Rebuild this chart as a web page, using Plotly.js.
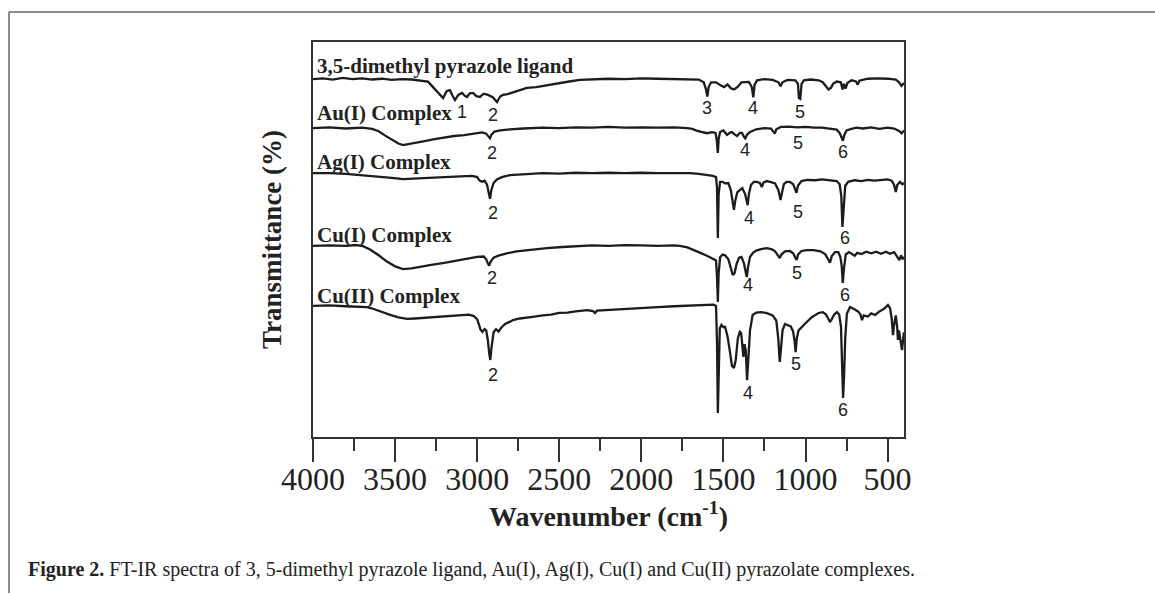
<!DOCTYPE html>
<html>
<head>
<meta charset="utf-8">
<script src="https://cdn.plot.ly/plotly-3.0.1.min.js"></script>
<style>
  html, body { margin: 0; padding: 0; background: #ffffff; }
  #chart { width: 1155px; height: 593px; }
</style>
</head>
<body>
<div id="chart"></div>
<script>
// FT-IR spectra, stacked with vertical offsets: [wavenumber (cm-1), transmittance (offset %)]
const ligand = [
  [4000,90.6],[3940,90.8],[3880,90.5],[3820,90.9],[3760,90.6],[3700,90.8],[3640,90.5],[3580,90.7],
  [3520,90.4],[3460,90.6],[3400,90.5],[3340,90.3],[3300,90.0],[3287,89.4],[3265,88.4],[3245,87.4],
  [3225,86.6],[3208,85.8],[3185,87.6],[3166,87.8],[3150,86.4],[3135,85.3],[3115,86.6],[3092,87.1],
  [3075,86.4],[3062,86.1],[3045,87.0],[3025,87.1],[3005,86.3],[2983,86.1],[2960,86.9],[2934,86.6],
  [2905,86.0],[2879,84.8],[2860,86.2],[2843,86.6],[2815,86.8],[2782,87.3],[2740,87.9],[2697,88.4],
  [2640,88.6],[2575,89.1],[2500,89.6],[2440,90.0],[2374,90.4],[2300,90.5],[2200,90.7],[2100,90.6],
  [2000,90.8],[1900,90.7],[1800,90.6],[1700,90.6],[1650,90.5],[1620,89.8],[1606,88.0],[1598,86.2],
  [1590,88.6],[1575,89.8],[1545,89.8],[1515,89.0],[1495,88.6],[1475,89.3],[1455,88.3],[1435,88.0],
  [1412,88.7],[1390,89.8],[1345,89.9],[1327,88.6],[1318,86.0],[1310,89.2],[1295,90.3],[1250,90.6],
  [1200,90.4],[1165,89.8],[1152,88.8],[1140,89.8],[1110,90.4],[1062,90.3],[1046,89.4],[1040,85.8],
  [1032,85.6],[1024,89.4],[1010,90.3],[970,90.5],[920,90.3],[895,89.8],[875,88.6],[860,88.0],
  [845,88.4],[832,89.4],[810,90.0],[785,89.8],[774,88.0],[766,89.4],[756,88.2],[745,89.6],
  [720,90.3],[692,90.0],[682,89.2],[672,90.2],[620,90.7],[560,90.8],[500,90.7],[450,90.5],
  [430,89.8],[415,88.9],[400,89.6]
];

const auComplex = [
  [4000,78.2],[3900,78.4],[3800,78.1],[3700,78.3],[3640,78.0],[3600,77.4],[3560,76.3],[3520,75.2],
  [3480,74.3],[3452,73.9],[3420,74.1],[3380,74.5],[3320,74.9],[3260,75.4],[3200,75.8],[3140,76.2],
  [3080,76.4],[3020,76.8],[2970,77.1],[2945,76.8],[2930,76.0],[2922,75.6],[2912,76.6],[2895,77.3],
  [2860,77.6],[2800,77.9],[2720,78.1],[2600,78.3],[2500,78.2],[2400,78.4],[2300,78.3],[2200,78.5],
  [2100,78.3],[2000,78.4],[1900,78.3],[1800,78.4],[1720,78.2],[1690,78.0],[1660,77.5],[1630,77.1],
  [1600,76.9],[1570,77.2],[1548,77.0],[1540,75.0],[1534,71.9],[1529,75.5],[1520,77.2],[1500,77.6],
  [1478,76.5],[1462,77.0],[1448,77.2],[1432,76.6],[1417,76.2],[1400,77.0],[1387,77.0],[1375,76.0],
  [1367,75.6],[1355,76.6],[1338,77.2],[1300,77.9],[1250,78.2],[1210,78.1],[1195,77.4],[1187,76.8],
  [1178,77.9],[1150,78.5],[1100,78.6],[1050,78.4],[1000,78.5],[950,78.3],[900,78.3],[850,78.1],
  [810,77.8],[792,77.0],[780,76.0],[772,75.0],[764,76.4],[750,77.6],[720,78.0],[690,78.3],
  [650,78.1],[600,78.4],[550,78.0],[500,78.3],[460,78.1],[430,77.5],[415,76.9],[400,77.6]
];

const agComplex = [
  [4000,66.8],[3900,66.8],[3800,66.6],[3700,66.3],[3600,66.0],[3520,65.6],[3452,65.3],[3380,65.4],
  [3300,65.6],[3200,65.8],[3100,66.0],[3030,66.1],[3000,65.8],[2985,64.9],[2970,64.6],[2955,64.9],
  [2940,63.9],[2930,61.8],[2922,60.3],[2914,62.4],[2900,64.3],[2880,65.2],[2850,65.8],[2800,66.3],
  [2700,66.6],[2600,66.8],[2500,66.7],[2400,66.9],[2300,66.8],[2200,66.9],[2100,66.8],[2000,66.9],
  [1900,66.8],[1800,66.8],[1704,66.8],[1650,66.6],[1600,66.4],[1564,66.1],[1545,65.8],[1539,63.0],
  [1534,50.4],[1529,61.5],[1520,64.6],[1505,64.6],[1490,64.2],[1470,64.3],[1455,62.5],[1444,59.0],
  [1436,57.5],[1428,59.8],[1415,62.0],[1400,62.5],[1385,63.0],[1368,61.5],[1358,59.5],[1352,58.7],
  [1345,61.5],[1332,63.8],[1315,64.6],[1296,64.6],[1278,64.3],[1266,63.3],[1256,64.4],[1235,64.8],
  [1216,64.6],[1185,64.2],[1165,62.5],[1152,60.0],[1145,61.5],[1132,64.0],[1115,64.6],[1095,64.6],
  [1075,64.0],[1062,62.5],[1055,61.8],[1046,63.6],[1025,64.8],[990,65.1],[940,65.0],[900,65.2],
  [850,65.0],[810,64.8],[792,64.0],[782,61.0],[775,53.2],[768,59.0],[758,63.6],[740,64.6],
  [700,65.0],[660,64.8],[620,65.1],[580,64.9],[540,65.1],[500,65.2],[475,64.9],[460,63.8],
  [450,62.0],[441,63.8],[425,64.6],[410,64.0],[400,64.3]
];

const cu1Complex = [
  [4000,48.4],[3900,48.5],[3800,48.4],[3740,48.6],[3695,48.3],[3650,47.4],[3600,46.0],[3550,44.4],
  [3500,43.2],[3452,42.5],[3400,42.7],[3340,43.2],[3280,43.6],[3200,44.1],[3130,44.6],[3060,45.2],
  [3000,45.6],[2960,45.7],[2945,45.0],[2935,44.0],[2927,43.4],[2918,44.4],[2900,45.4],[2870,45.9],
  [2820,46.5],[2760,47.0],[2680,47.4],[2575,47.8],[2480,48.1],[2400,48.3],[2300,48.5],[2200,48.4],
  [2100,48.6],[2000,48.5],[1900,48.4],[1800,48.5],[1765,48.4],[1720,48.0],[1680,47.2],[1640,46.6],
  [1600,45.9],[1565,45.1],[1545,44.7],[1539,40.5],[1534,34.2],[1529,41.5],[1520,45.5],[1505,46.2],
  [1490,46.0],[1470,45.0],[1455,42.8],[1443,41.0],[1432,41.5],[1420,43.8],[1405,45.4],[1390,45.6],
  [1375,44.0],[1365,41.5],[1358,40.5],[1350,43.0],[1338,45.6],[1320,46.6],[1300,47.2],[1265,47.6],
  [1235,47.8],[1205,47.5],[1185,47.0],[1168,46.0],[1157,45.3],[1147,46.2],[1125,47.0],[1095,47.1],
  [1075,46.5],[1062,45.4],[1054,44.8],[1045,46.2],[1025,47.1],[990,47.3],[950,47.3],[910,47.0],
  [880,46.3],[862,45.0],[851,44.1],[840,45.8],[820,46.8],[800,46.8],[788,45.6],[780,43.5],
  [773,39.0],[766,42.5],[755,46.2],[735,46.8],[715,46.4],[700,45.9],[685,46.6],[660,46.3],
  [630,46.9],[600,46.5],[570,46.9],[540,46.4],[510,46.9],[485,46.4],[460,46.8],[440,45.6],
  [428,44.8],[418,46.0],[408,45.0],[400,45.6]
];

const cu2Complex = [
  [4000,33.2],[3900,33.3],[3800,33.1],[3720,33.0],[3671,32.9],[3630,32.4],[3580,31.6],[3530,30.9],
  [3480,30.3],[3427,29.9],[3380,30.0],[3320,30.2],[3250,30.4],[3180,30.6],[3100,30.9],[3050,31.0],
  [3020,30.6],[3000,29.8],[2990,28.6],[2980,27.2],[2968,26.6],[2955,27.3],[2945,27.0],[2935,24.5],
  [2926,21.0],[2920,19.5],[2913,22.5],[2900,26.5],[2885,27.3],[2870,26.7],[2855,27.6],[2830,28.6],
  [2800,29.2],[2782,29.6],[2740,30.0],[2700,30.3],[2650,30.5],[2600,30.8],[2550,31.0],[2500,31.4],
  [2450,31.5],[2400,31.8],[2330,32.1],[2295,31.9],[2282,31.4],[2270,32.0],[2200,32.2],[2100,32.5],
  [2000,32.7],[1900,32.9],[1800,33.1],[1700,33.3],[1620,33.4],[1560,33.5],[1545,33.2],[1539,24.0],
  [1534,6.1],[1529,18.0],[1522,27.5],[1512,28.4],[1500,27.8],[1490,27.9],[1475,25.5],[1460,21.5],
  [1448,18.0],[1436,17.5],[1425,19.5],[1412,25.0],[1400,26.6],[1392,26.3],[1384,22.5],[1378,20.3],
  [1372,23.5],[1364,22.0],[1356,14.4],[1348,19.5],[1338,27.0],[1322,30.9],[1300,31.5],[1270,31.6],
  [1240,31.4],[1200,30.8],[1178,29.5],[1166,25.0],[1157,19.0],[1150,22.0],[1140,27.0],[1125,28.6],
  [1108,28.4],[1090,28.0],[1076,26.8],[1067,24.5],[1060,21.5],[1053,25.0],[1042,27.0],[1025,27.8],
  [1000,28.8],[960,30.4],[920,31.4],[894,31.6],[875,31.0],[862,30.0],[851,29.1],[840,29.8],
  [825,31.0],[808,31.6],[795,31.0],[784,28.0],[777,19.0],[771,9.9],[765,15.5],[758,25.0],
  [748,31.2],[729,32.9],[705,32.4],[680,31.8],[665,31.0],[656,29.6],[645,30.8],[620,30.5],
  [600,31.3],[575,30.9],[550,31.8],[520,32.5],[498,33.4],[485,32.6],[475,30.0],[467,25.8],
  [460,28.5],[450,30.8],[442,28.0],[437,24.6],[431,27.0],[424,25.0],[418,22.8],[412,22.0],
  [406,24.5],[400,26.5]
];

// Spectrum names and the level at which each name sits
const spectrumNames = ["3,5-dimethyl pyrazole ligand", "Au(I) Complex", "Ag(I) Complex", "Cu(I) Complex", "Cu(II) Complex"];
const nameLevels = [93.8, 82.0, 69.6, 51.1, 35.7];

// Band numbers: [label, wavenumber, level of the number]
const ligandBands = [["1",3092,82.3],["2",2904,81.5],["3",1600,83.3],["4",1320,83.3],["5",1034,82.3]];
const auBands     = [["2",2910,71.9],["4",1369,72.7],["5",1046,74.4],["6",772,72.2]];
const agBands     = [["2",2904,56.7],["4",1344,55.4],["5",1046,57.0],["6",760,50.4]];
const cu1Bands    = [["2",2910,40.3],["4",1350,38.5],["5",1052,41.5],["6",760,35.9]];
const cu2Bands    = [["2",2904,15.7],["4",1350,11.1],["5",1058,18.5],["6",772,6.8]];

const xTickVals = [4000, 3500, 3000, 2500, 2000, 1500, 1000, 500];
const xTickText = ["4000", "3500", "3000", "2500", "2000", "1500", "1000", "500"];

const captionBold = "Figure 2.";
const captionText = "FT-IR spectra of 3, 5-dimethyl pyrazole ligand, Au(I), Ag(I), Cu(I) and Cu(II) pyrazolate complexes.";

// ---- drawing ----
const ink = "#1c1c1c";
const spectra = [ligand, auComplex, agComplex, cu1Complex, cu2Complex];
const traces = spectra.map((s, i) => ({
  type: "scatter",
  mode: "lines",
  name: spectrumNames[i],
  x: s.map(p => p[0]),
  y: s.map(p => p[1]),
  line: { color: ink, width: 2.3 },
  hoverinfo: "skip",
  showlegend: false
}));

const annotations = [];
spectrumNames.forEach((n, i) => {
  annotations.push({
    xref: "x", yref: "y", x: 3990, y: nameLevels[i],
    xanchor: "left", yanchor: "middle", showarrow: false,
    text: "<b>" + n + "</b>",
    font: { family: "Liberation Serif, Times New Roman, serif", size: 21, color: "#222" }
  });
});
[ligandBands, auBands, agBands, cu1Bands, cu2Bands].forEach(bands => {
  bands.forEach(b => {
    annotations.push({
      xref: "x", yref: "y", x: b[1], y: b[2],
      xanchor: "center", yanchor: "middle", showarrow: false,
      text: b[0],
      font: { family: "Liberation Sans, Arial, sans-serif", size: 18, color: "#222" }
    });
  });
});
// figure caption under the plot
annotations.push({
  xref: "paper", yref: "paper", x: -0.4857, y: -0.3367,
  xanchor: "left", yanchor: "middle", showarrow: false, align: "left",
  text: "<b>" + captionBold + "</b> " + captionText,
  font: { family: "Liberation Serif, Times New Roman, serif", size: 20, color: "#222" }
});

const layout = {
  width: 1155, height: 593,
  margin: { l: 313, r: 251, t: 42, b: 156, pad: 0 },
  paper_bgcolor: "#ffffff", plot_bgcolor: "#ffffff",
  showlegend: false,
  xaxis: {
    range: [4000, 400],
    tickvals: xTickVals, ticktext: xTickText,
    ticks: "outside", ticklen: 23, tickwidth: 2, tickcolor: "#333",
    ticklabelstandoff: -10,
    minor: { dtick: 250, tick0: 0, ticks: "outside", ticklen: 12, tickwidth: 2, tickcolor: "#333", showgrid: false },
    showline: true, linecolor: "#333", linewidth: 2, mirror: true,
    showgrid: false, zeroline: false,
    tickfont: { family: "Liberation Serif, Times New Roman, serif", size: 32, color: "#222" },
    title: { text: "<b>Wavenumber (cm<sup>-1</sup>)</b>", standoff: 0,
             font: { family: "Liberation Serif, Times New Roman, serif", size: 28, color: "#222" } }
  },
  yaxis: {
    range: [0, 100],
    showticklabels: false, ticks: "",
    showline: true, linecolor: "#333", linewidth: 2, mirror: true,
    showgrid: false, zeroline: false,
    title: { text: "<b>Transmittance (%)</b>", standoff: 22,
             font: { family: "Liberation Serif, Times New Roman, serif", size: 27, color: "#222" } }
  },
  annotations: annotations,
  shapes: [
    { type: "line", xref: "paper", yref: "paper", x0: -0.5144, x1: 1.43, y0: 1.076, y1: 1.076,
      line: { color: "#8c8c8c", width: 2 } },
    { type: "line", xref: "paper", yref: "paper", x0: -0.5144, x1: -0.5144, y0: 1.076, y1: -0.41,
      line: { color: "#8c8c8c", width: 2 } }
  ]
};

Plotly.newPlot("chart", traces, layout, { staticPlot: true, displayModeBar: false });
</script>
</body>
</html>
